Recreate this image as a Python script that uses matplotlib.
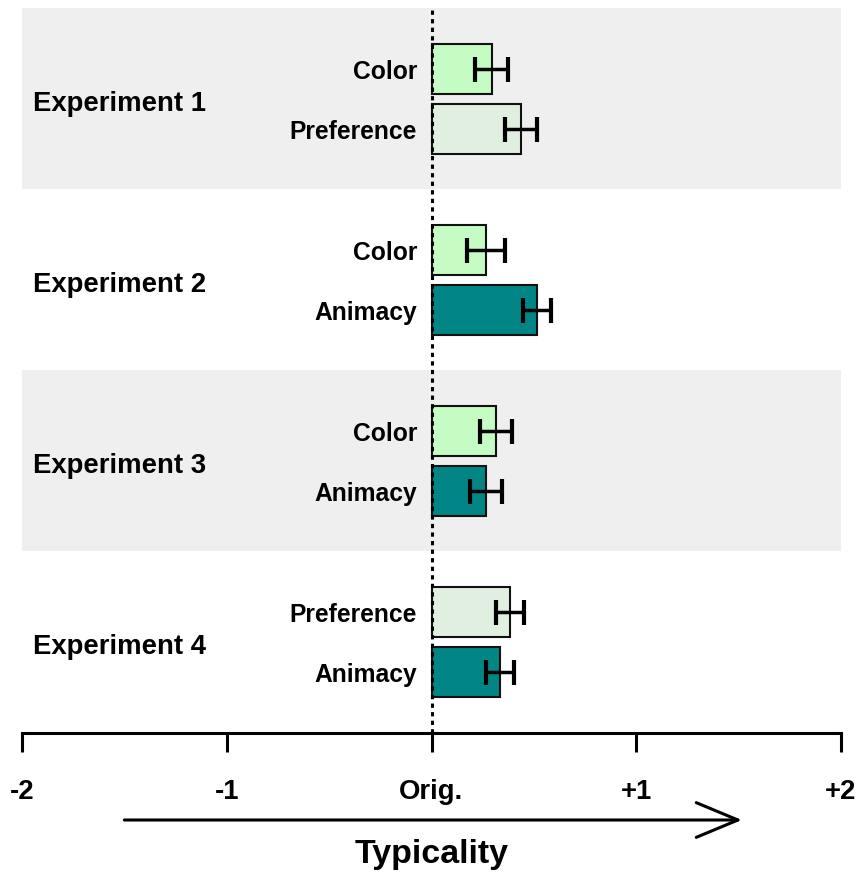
import matplotlib
matplotlib.use("Agg")
import matplotlib.pyplot as plt

experiments = ["Experiment 1", "Experiment 2", "Experiment 3", "Experiment 4"]
conditions = [["Color", "Preference"], ["Color", "Animacy"], ["Color", "Animacy"], ["Preference", "Animacy"]]
values = [[0.294, 0.436], [0.267, 0.516], [0.315, 0.264], [0.382, 0.334]]
errors = [[0.080, 0.079], [0.094, 0.068], [0.077, 0.078], [0.069, 0.068]]
tick_vals = [-2, -1, 0, 1, 2]
tick_labels = ["-2", "-1", "Orig.", "+1", "+2"]
xlabel = "Typicality"

colors = {"Color": "#c4fcc4", "Preference": "#e1efe1", "Animacy": "#018585"}

plt.rcParams['font.family'] = ['Liberation Sans', 'DejaVu Sans']

W, H = 859, 876
fig = plt.figure(figsize=(W / 100, H / 100), dpi=100)
left, right = 22 / W, 841 / W
top, bottom = 8 / H, 733 / H
ax = fig.add_axes([left, 1 - bottom, right - left, bottom - top])
ax.set_xlim(-2, 2)
ax.set_ylim(4.005, 0)

bar_h = 0.276
off = 0.166
for i, exp in enumerate(experiments):
    if i % 2 == 0:
        ax.axhspan(i, i + 1, color="#efefef", zorder=0, lw=0)
    gc = i + 0.503
    ax.text(-1.946, gc + 0.01, exp, ha="left", va="center_baseline", fontsize=19.8, fontweight="bold")
    for j, cond in enumerate(conditions[i]):
        y = gc - off if j == 0 else gc + off
        ax.barh(y, values[i][j], height=bar_h, color=colors[cond], edgecolor="#111111",
                linewidth=1.5, zorder=2)
        ax.errorbar(values[i][j], y, xerr=errors[i][j], fmt="none", ecolor="black",
                    elinewidth=2.5, capsize=9, capthick=3, zorder=3)
        ax.text(-0.071, y, cond, ha="right", va="center_baseline", fontsize=17.7, fontweight="bold")

ax.axvline(0, color="black", lw=2.2, linestyle=(0, (1.4, 1.4)), zorder=4)

for s in ["top", "right", "left"]:
    ax.spines[s].set_visible(False)
ax.spines["bottom"].set_linewidth(2.2)
ax.set_yticks([])
ax.set_xticks(tick_vals)
ax.set_xticklabels(tick_labels, fontsize=19.8, fontweight="bold")
ax.tick_params(axis="x", length=14, width=2.2, pad=19)

ax.annotate("", xy=(1.516, H - 820), xytext=(-1.50, H - 820),
            xycoords=("data", "figure pixels"), textcoords=("data", "figure pixels"),
            arrowprops=dict(arrowstyle="->, head_length=3.0, head_width=1.25",
                            mutation_scale=10, lw=2.2, color="black", shrinkA=0, shrinkB=0),
            annotation_clip=False)
fig.text(431.5 / W, 1 - 863 / H, xlabel, ha="center", va="baseline", fontsize=24.5, fontweight="bold")

fig.savefig("out.png", dpi=100)
